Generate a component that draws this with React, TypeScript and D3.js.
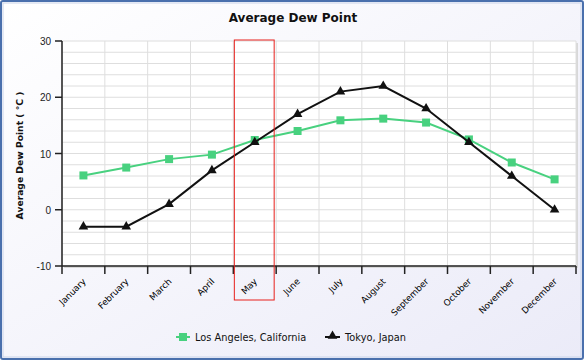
import React from 'react';
import * as d3 from 'd3';

const months = ['January', 'February', 'March', 'April', 'May', 'June', 'July', 'August', 'September', 'October', 'November', 'December'];
const losAngeles = [6.1, 7.5, 9.0, 9.8, 12.4, 14.0, 15.9, 16.2, 15.5, 12.5, 8.4, 5.4];
const tokyo = [-3, -3, 1, 7, 12, 17, 21, 22, 18, 12, 6, 0];
const yTicks = [-10, 0, 10, 20, 30];
const highlighted = 'May';

const W = 588;
const H = 363;
const margin = { top: 41, right: 12, bottom: 97, left: 62 };
const font = '"DejaVu Sans", Verdana, sans-serif';

const App: React.FC = () => {
  const x = d3.scaleBand<string>().domain(months).range([margin.left, W - margin.right]);
  const y = d3.scaleLinear().domain([-10, 30]).range([H - margin.bottom, margin.top]);
  const minor = d3.range(-10, 31, 2);

  const line = d3.line<number>()
    .x((_, i) => (x(months[i]) as number) + x.bandwidth() / 2)
    .y(d => y(d));

  const tri = d3.symbol().type(d3.symbolTriangle).size(40)();
  const x0 = margin.left;
  const x1 = W - margin.right;
  const yb = y(-10);
  const hx = x(highlighted) as number;

  return (
    <svg width={W} height={H} style={{ position: 'absolute', left: 0, top: 0 }}>
      <defs>
        <linearGradient id="bg" x1="0" y1="0" x2="1" y2="1">
          <stop offset="0" stopColor="#ffffff" />
          <stop offset="1" stopColor="#ebebf8" />
        </linearGradient>
      </defs>
      <rect x={1} y={1} width={582} height={358} rx={2} fill="url(#bg)" stroke="#4a70ad" strokeWidth={2} />
      <rect x={3} y={3} width={578} height={354} fill="none" stroke="#c9d4ea" strokeWidth={1} />

      <text x={293} y={22} textAnchor="middle" fontFamily={font} fontWeight="bold" fontSize={12} fill="#111">Average Dew Point</text>

      {/* plot background and shadow */}
      <rect x={x0 + 2} y={margin.top + 2} width={x1 - x0} height={yb - margin.top} fill="#d8d8d8" />
      <rect x={x0} y={margin.top} width={x1 - x0} height={yb - margin.top} fill="#ffffff" />

      {/* grid */}
      {minor.map(v => (
        <line key={'h' + v} x1={x0} x2={x1} y1={y(v)} y2={y(v)} stroke="#dedede" strokeWidth={1} />
      ))}
      {months.map(m => (
        <line key={'v' + m} x1={x(m) as number} x2={x(m) as number} y1={margin.top} y2={yb} stroke="#dedede" strokeWidth={1} />
      ))}
      <line x1={x1} x2={x1} y1={margin.top} y2={yb} stroke="#dedede" />

      {/* axes */}
      <line x1={x0} x2={x0} y1={margin.top} y2={yb} stroke="#222" strokeWidth={1.5} />
      <line x1={x0} x2={x1} y1={yb} y2={yb} stroke="#222" strokeWidth={1.5} />
      {yTicks.map(v => (
        <g key={'yt' + v}>
          <line x1={x0 - 7} x2={x0} y1={y(v)} y2={y(v)} stroke="#222" strokeWidth={1.5} />
          <text x={x0 - 11} y={y(v) + 4} textAnchor="end" fontFamily='"Liberation Sans", Arial, sans-serif' fontSize={10} fill="#222">{v}</text>
        </g>
      ))}
      {[...months.map(m => x(m) as number), x1].map((px, i) => (
        <line key={'xt' + i} x1={px} x2={px} y1={yb} y2={yb + 8} stroke="#222" strokeWidth={1.5} />
      ))}
      {months.map(m => {
        const cx = (x(m) as number) + x.bandwidth() / 2 + 3;
        const cy = yb + 16;
        return (
          <text key={'xl' + m} transform={`translate(${cx},${cy}) rotate(-45)`} textAnchor="end" fontFamily={font} fontSize={8.8} fill="#000">{m}</text>
        );
      })}

      <text transform={`translate(23,${y(10) + 2}) rotate(-90)`} textAnchor="middle" fontFamily={font} fontWeight="bold" fontSize={9.2} fill="#111">Average Dew Point ( °C )</text>

      {/* series */}
      <path d={line(losAngeles) || ''} fill="none" stroke="#48d17f" strokeWidth={2} />
      {losAngeles.map((v, i) => (
        <rect key={'la' + i} x={(x(months[i]) as number) + x.bandwidth() / 2 - 4} y={y(v) - 4} width={8} height={8} fill="#48d17f" />
      ))}
      <path d={line(tokyo) || ''} fill="none" stroke="#111" strokeWidth={2} />
      {tokyo.map((v, i) => (
        <path key={'tk' + i} d={tri || ''} transform={`translate(${(x(months[i]) as number) + x.bandwidth() / 2},${y(v)})`} fill="#111" />
      ))}

      {/* highlight */}
      <rect x={hx + 1} y={margin.top - 1} width={x.bandwidth() - 3} height={301 - margin.top} fill="none" stroke="#e8201c" strokeWidth={1} />

      {/* legend */}
      <line x1={176} x2={190} y1={337} y2={337} stroke="#48d17f" strokeWidth={2} />
      <rect x={179} y={333} width={8} height={8} fill="#48d17f" />
      <text x={195} y={341} fontFamily={font} fontSize={9.8} fill="#111">Los Angeles, California</text>
      <line x1={325} x2={340} y1={337} y2={337} stroke="#111" strokeWidth={2} />
      <path d={tri || ''} transform="translate(332.5,336)" fill="#111" />
      <text x={345} y={341} fontFamily={font} fontSize={9.8} fill="#111">Tokyo, Japan</text>
    </svg>
  );
};

export default App;
